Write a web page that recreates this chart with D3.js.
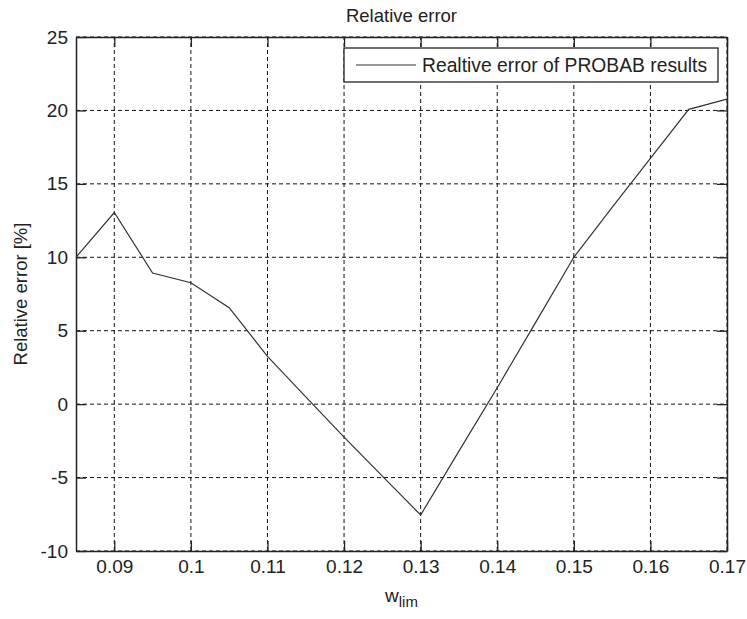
<!DOCTYPE html>
<html lang="en">
  <head>
    <meta charset="UTF-8" />
    <title>Relative error</title>
    <style>
      body { margin: 0; background: #fff; }
      text { font-family: "Liberation Sans", Arial, sans-serif; fill: #222; }
    </style>
  </head>
  <body>
    <script src="https://d3js.org/d3.v7.min.js"></script>
    <script>
      // data
      var wlim = [0.085, 0.09, 0.095, 0.1, 0.105, 0.11, 0.115, 0.12, 0.125, 0.13,
                  0.135, 0.14, 0.145, 0.15, 0.155, 0.16, 0.165, 0.17];
      var relErr = [10.0, 13.05, 8.93, 8.27, 6.57, 3.25, 0.5, -2.25, -4.9, -7.55,
                    -3.2, 1.12, 5.55, 10.0, 13.4, 16.73, 20.07, 20.77];
      var xTicks = [0.09, 0.1, 0.11, 0.12, 0.13, 0.14, 0.15, 0.16, 0.17];
      var yTicks = [-10, -5, 0, 5, 10, 15, 20, 25];
      var legendLabel = "Realtive error of PROBAB results";

      var w = 747, h = 619;
      var margin = { top: 37, right: 20, bottom: 68, left: 76 };

      var svg = d3.select("body")
                  .append("svg")
                  .attr("width", w)
                  .attr("height", h);

      var xScale = d3.scaleLinear()
                     .domain([0.085, 0.17])
                     .range([margin.left, w - margin.right]);

      var yScale = d3.scaleLinear()
                     .domain([-10, 25])
                     .range([h - margin.bottom, margin.top]);

      var x0 = margin.left, x1 = w - margin.right;
      var y0 = h - margin.bottom, y1 = margin.top;

      // grid
      svg.selectAll(".vgrid")
         .data(xTicks)
         .enter()
         .append("line")
         .attr("x1", function(d) { return xScale(d); })
         .attr("x2", function(d) { return xScale(d); })
         .attr("y1", y0)
         .attr("y2", y1)
         .attr("stroke", "#111")
         .attr("stroke-width", 1)
         .attr("stroke-dasharray", "4,3");

      svg.selectAll(".hgrid")
         .data(yTicks)
         .enter()
         .append("line")
         .attr("y1", function(d) { return yScale(d); })
         .attr("y2", function(d) { return yScale(d); })
         .attr("x1", x0)
         .attr("x2", x1)
         .attr("stroke", "#111")
         .attr("stroke-width", 1)
         .attr("stroke-dasharray", "4,3");

      // axes: ticks inside, on all four sides
      var tickLen = 10;
      var xBottom = d3.axisBottom(xScale).tickValues(xTicks).tickSizeInner(-tickLen).tickSizeOuter(0).tickPadding(9)
                      .tickFormat(function(d) { return String(+d.toFixed(2)); });
      var xTop = d3.axisTop(xScale).tickValues(xTicks).tickSizeInner(-tickLen).tickSizeOuter(0).tickFormat("");
      var yLeft = d3.axisLeft(yScale).tickValues(yTicks).tickSizeInner(-tickLen).tickSizeOuter(0).tickPadding(8)
                    .tickFormat(function(d) { return String(d); });
      var yRight = d3.axisRight(yScale).tickValues(yTicks).tickSizeInner(-tickLen).tickSizeOuter(0).tickFormat("");

      function styleAxis(g) {
        g.select(".domain").attr("stroke", "#222").attr("stroke-width", 1.5);
        g.selectAll(".tick line").attr("stroke", "#222").attr("stroke-width", 1.3);
        g.selectAll("text").attr("font-size", "19px").attr("fill", "#222")
         .attr("font-family", "'Liberation Sans', Arial, sans-serif");
      }

      svg.append("g").attr("transform", "translate(0," + y0 + ")").call(xBottom).call(styleAxis);
      svg.append("g").attr("transform", "translate(0," + y1 + ")").call(xTop).call(styleAxis);
      svg.append("g").attr("transform", "translate(" + x0 + ",0)").call(yLeft).call(styleAxis);
      svg.append("g").attr("transform", "translate(" + x1 + ",0)").call(yRight).call(styleAxis);

      // the series
      var line = d3.line()
                   .x(function(d, i) { return xScale(wlim[i]); })
                   .y(function(d) { return yScale(d); });

      svg.append("path")
         .datum(relErr)
         .attr("d", line)
         .attr("fill", "none")
         .attr("stroke", "#333")
         .attr("stroke-width", 1.2);

      // legend
      var lg = svg.append("g").attr("transform", "translate(344,48)");
      lg.append("rect")
        .attr("width", 374)
        .attr("height", 34)
        .attr("fill", "#fff")
        .attr("stroke", "#222")
        .attr("stroke-width", 1.3);
      lg.append("line")
        .attr("x1", 12).attr("x2", 72)
        .attr("y1", 17).attr("y2", 17)
        .attr("stroke", "#333")
        .attr("stroke-width", 1.2);
      lg.append("text")
        .attr("x", 78)
        .attr("y", 24)
        .attr("font-size", "19.3px")
        .text(legendLabel);

      // titles
      svg.append("text")
         .attr("x", (x0 + x1) / 2)
         .attr("y", 22)
         .attr("text-anchor", "middle")
         .attr("font-size", "18.5px")
         .text("Relative error");

      svg.append("text")
         .attr("transform", "translate(27," + ((y0 + y1) / 2) + ") rotate(-90)")
         .attr("text-anchor", "middle")
         .attr("font-size", "18.5px")
         .text("Relative error [%]");

      var xl = svg.append("text")
                  .attr("x", (x0 + x1) / 2)
                  .attr("y", 602)
                  .attr("text-anchor", "middle")
                  .attr("font-size", "19px");
      xl.append("tspan").text("w");
      xl.append("tspan").attr("dy", 5).attr("font-size", "15px").text("lim");
    </script>
  </body>
</html>
